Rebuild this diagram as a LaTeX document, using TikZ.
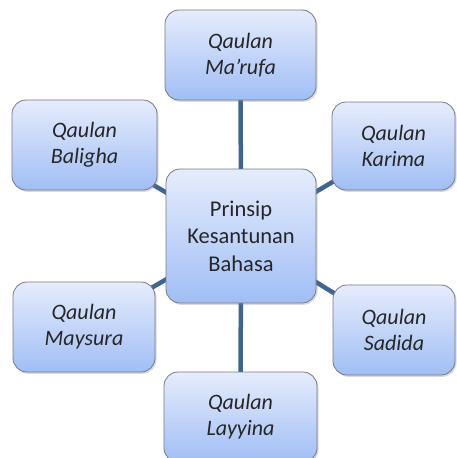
\documentclass[tikz,border=0pt]{standalone}
\usepackage{fontspec}
\setmainfont{Carlito}
\usepackage{tikz}
\usetikzlibrary{shadows,backgrounds}
\definecolor{garis}{RGB}{62,100,145}
\definecolor{atas}{RGB}{230,236,252}
\definecolor{bawah}{RGB}{160,190,245}
\definecolor{tepi}{RGB}{120,122,132}
\tikzset{
 kotak/.style={draw=tepi, line width=0.8pt, rounded corners=14pt,
  top color=atas, bottom color=bawah, text=black!85,
  align=center, inner sep=0pt,
  minimum width=146pt, minimum height=90pt,
  drop shadow={shadow xshift=1.5pt, shadow yshift=-1.8pt, opacity=0.3},
  font=\fontsize{22}{26}\selectfont\itshape},
 pusat/.style={kotak, minimum width=150pt, minimum height=134pt,
  font=\fontsize{22.5}{27.5}\selectfont},
 hubung/.style={draw=garis, line width=4.5pt}
}

\begin{document}
\begin{tikzpicture}[x=1pt,y=1pt]
 \useasboundingbox (0,0) rectangle (456,-458);

 % center box
 \node[pusat] (Prinsip) at (241,-236) {Prinsip\\Kesantunan\\Bahasa};

 % top and bottom
 \node[kotak,
  above of=Prinsip,	% straight above the center
  node distance=181pt,
  xshift=-0.5pt,
  minimum width=151pt] (Marufa) {Qaulan\\Ma'rufa};
 \node[kotak,
  below of=Prinsip,
  node distance=181pt,
  xshift=-0.5pt,
  minimum width=153pt] (Layyina) {Qaulan\\Layyina};

 % left side
 \node[kotak,
  left of=Prinsip,
  node distance=156.5pt,
  yshift=91pt,
  minimum width=145pt] (Baligha) {Qaulan\\Baligha};
 \node[kotak,
  left of=Prinsip,
  node distance=157pt,
  yshift=-91pt,
  minimum width=142pt] (Maysura) {Qaulan\\Maysura};

 % right side (narrower)
 \node[kotak,
  right of=Prinsip,
  node distance=152.5pt,
  yshift=90pt,
  minimum width=123pt, minimum height=88pt] (Karima) {Qaulan\\Karima};
 \node[kotak,
  right of=Prinsip,
  node distance=153pt,
  yshift=-94pt,
  minimum width=122pt] (Sadida) {Qaulan\\Sadida};

 % connectors behind the boxes
 \begin{scope}[on background layer]
  \foreach \luar in {Marufa,Layyina,Baligha,Maysura,Karima,Sadida}
   \draw[hubung] (Prinsip.center) -- (\luar.center);
 \end{scope}

\end{tikzpicture}
\end{document}
